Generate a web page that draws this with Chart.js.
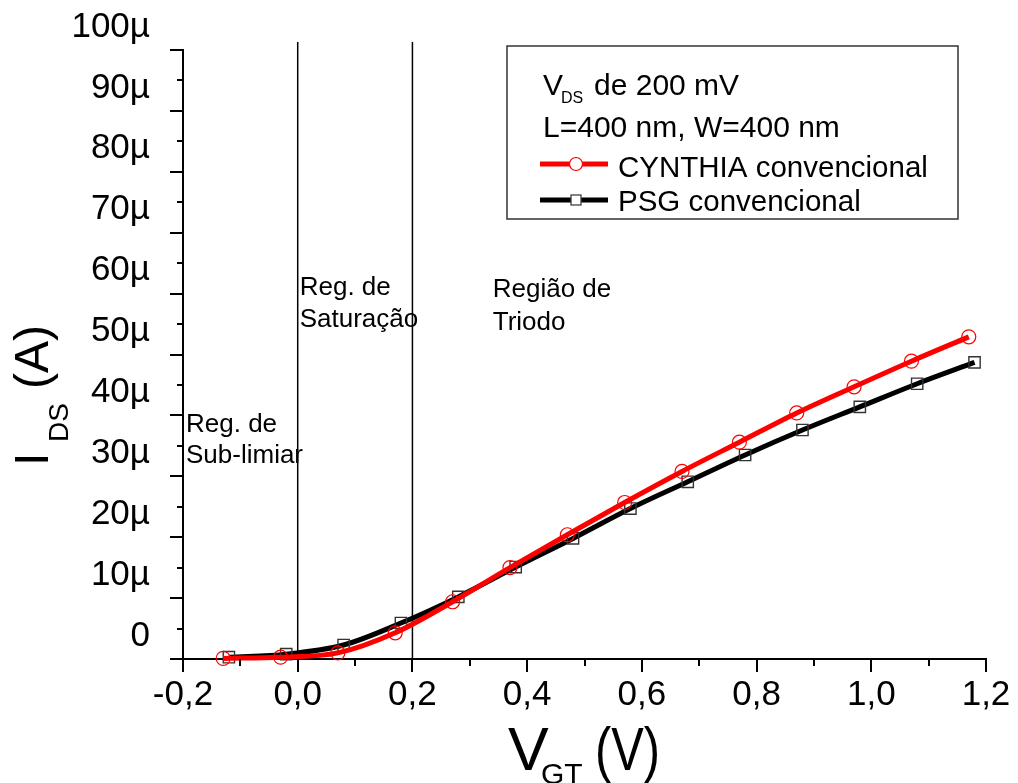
<!DOCTYPE html>
<html>
<head>
<meta charset="utf-8">
<script src="https://cdn.jsdelivr.net/npm/chart.js@4.4.0/dist/chart.umd.min.js"></script>
<style>
html,body{margin:0;padding:0;background:#fff;}
canvas{display:block;}
</style>
</head>
<body>
<canvas id="c" width="1018" height="783"></canvas>
<script>
// ---- data (I_DS in µA) ----
const vgtCynthia = [-0.13,-0.03,0.07,0.17,0.27,0.37,0.47,0.57,0.67,0.77,0.87,0.97,1.07,1.17];
const idsCynthia = [0.1,0.3,1.0,4.3,9.4,15.0,20.4,25.7,30.8,35.6,40.4,44.7,48.9,52.9];
const vgtPsg = [-0.12,-0.02,0.08,0.18,0.28,0.38,0.48,0.58,0.68,0.78,0.88,0.98,1.08,1.18];
const idsPsg = [0.3,0.8,2.3,5.9,10.2,15.1,19.8,24.7,29.1,33.5,37.6,41.4,45.2,48.7];
const regionBounds = [0.0, 0.2];
const xTickLabels = ['-0,2','0,0','0,2','0,4','0,6','0,8','1,0','1,2'];
const yTickLabels = ['0','10µ','20µ','30µ','40µ','50µ','60µ','70µ','80µ','90µ','100µ'];
const seriesNames = ['CYNTHIA convencional','PSG convencional'];

const FONT = '"Liberation Sans", Arial, Helvetica, sans-serif';

function pts(xs, ys){ return xs.map((v,i)=>({x:v, y:ys[i]})); }

const annot = {
  id:'annot',
  beforeDatasetsDraw(chart){
    const {ctx, scales:{x}, chartArea} = chart;
    ctx.save();
    ctx.strokeStyle = '#000'; ctx.lineWidth = 1.5;
    regionBounds.forEach(v=>{
      const px = x.getPixelForValue(v);
      ctx.beginPath(); ctx.moveTo(px, chartArea.top - 8); ctx.lineTo(px, chartArea.bottom); ctx.stroke();
    });
    ctx.restore();
  },
  afterDraw(chart){
    const {ctx, scales:{x,y}, chartArea} = chart;
    ctx.save();
    // tick marks
    ctx.strokeStyle = '#000'; ctx.lineWidth = 2;
    for (let i = 0; i <= 20; i++){
      const v = i*5, py = Math.round(y.getPixelForValue(v));
      const len = (i%2===0) ? 13 : 6;
      ctx.beginPath(); ctx.moveTo(chartArea.left, py); ctx.lineTo(chartArea.left - len, py); ctx.stroke();
    }
    for (let i = 0; i <= 14; i++){
      const v = -0.2 + i*0.1, px = Math.round(x.getPixelForValue(v));
      const len = (i%2===0) ? 13 : 7;
      ctx.beginPath(); ctx.moveTo(px, chartArea.bottom); ctx.lineTo(px, chartArea.bottom + len); ctx.stroke();
    }
    ctx.fillStyle = '#000';
    ctx.textBaseline = 'alphabetic';
    ctx.textAlign = 'left';
    // x title: V_GT (V)
    ctx.font = '61px ' + FONT;
    ctx.fillText('V', 508, 770);
    ctx.font = '30px ' + FONT;
    ctx.fillText('GT', 541, 784);
    ctx.save();
    ctx.translate(595, 770); ctx.scale(0.8, 1);
    ctx.font = '61px ' + FONT;
    ctx.fillText('(V)', 0, 0);
    ctx.restore();
    // y title: I_DS (A)
    ctx.save();
    ctx.translate(48, 0); ctx.rotate(-Math.PI/2);
    ctx.font = '48px ' + FONT;
    ctx.fillText('I', -466, 0);
    ctx.font = '28px ' + FONT;
    ctx.fillText('DS', -442, 20);
    ctx.font = '48px ' + FONT;
    ctx.fillText('(A)', -389, 0);
    ctx.restore();
    // region labels
    ctx.font = '26px ' + FONT;
    const l0 = chartArea.left + 3, l1 = x.getPixelForValue(0) + 2, l2 = x.getPixelForValue(0.34);
    ctx.fillText('Reg. de', l0, 432); ctx.fillText('Sub-limiar', l0, 463);
    ctx.fillText('Reg. de', l1, 295); ctx.fillText('Saturação', l1, 327);
    ctx.fillText('Região de', l2, 297); ctx.fillText('Triodo', l2, 330);
    // legend box
    ctx.strokeStyle = '#333'; ctx.lineWidth = 1.5;
    ctx.strokeRect(507, 46, 451, 173);
    ctx.font = '30px ' + FONT;
    ctx.fillText('V', 543, 95);
    ctx.font = '16px ' + FONT;
    ctx.fillText('DS', 561, 103);
    ctx.font = '30px ' + FONT;
    ctx.fillText('de 200 mV', 594, 95);
    ctx.fillText('L=400 nm, W=400 nm', 543, 137);
    ctx.font = '29.5px ' + FONT;
    ctx.fillText(seriesNames[0], 618, 177);
    ctx.fillText(seriesNames[1], 618, 211);
    // legend samples
    ctx.lineWidth = 5;
    ctx.strokeStyle = '#ff0000';
    ctx.beginPath(); ctx.moveTo(540, 164); ctx.lineTo(608, 164); ctx.stroke();
    ctx.lineWidth = 1.2;
    ctx.beginPath(); ctx.arc(576, 164, 6.5, 0, Math.PI*2); ctx.fillStyle='#fff'; ctx.fill(); ctx.stroke();
    ctx.strokeStyle = '#000'; ctx.lineWidth = 5;
    ctx.beginPath(); ctx.moveTo(540, 200); ctx.lineTo(608, 200); ctx.stroke();
    ctx.strokeStyle = '#333'; ctx.lineWidth = 1.2;
    ctx.fillStyle = '#fff';
    ctx.fillRect(571, 195, 10, 10); ctx.strokeRect(571, 195, 10, 10);
    ctx.restore();
  }
};

new Chart(document.getElementById('c'), {
  type: 'line',
  data: {
    datasets: [
      {
        label: seriesNames[0],
        data: pts(vgtCynthia, idsCynthia),
        borderColor: '#ff0000', borderWidth: 5,
        pointStyle: 'circle', pointRadius: 7, pointBorderWidth: 1.2,
        pointBorderColor: '#ff0000', pointBackgroundColor: 'rgba(0,0,0,0)',
        cubicInterpolationMode: 'monotone', clip: false
      },
      {
        label: seriesNames[1],
        data: pts(vgtPsg, idsPsg),
        borderColor: '#000000', borderWidth: 5,
        pointStyle: 'rect', pointRadius: 8, pointBorderWidth: 1.4,
        pointBorderColor: '#333333', pointBackgroundColor: 'rgba(0,0,0,0)',
        cubicInterpolationMode: 'monotone', clip: false
      }
    ]
  },
  options: {
    responsive: false,
    animation: false,
    layout: { padding: { top: 50, right: 32, left: 0, bottom: 0 } },
    plugins: { legend: { display: false }, tooltip: { enabled: false } },
    scales: {
      x: {
        type: 'linear', min: -0.2, max: 1.2,
        afterFit(s){ s.height = 124; },
        border: { display: true, color: '#000', width: 2 },
        grid: { drawOnChartArea: false, drawTicks: true, tickLength: 13, tickColor: 'rgba(0,0,0,0)' },
        ticks: {
          stepSize: 0.2, padding: 2, color: '#000', maxRotation: 0, autoSkip: false,
          font: { family: FONT, size: 35 },
          callback(v){ const i = Math.round((v + 0.2) / 0.2); return xTickLabels[i] ?? ''; }
        }
      },
      y: {
        type: 'linear', min: 0, max: 100,
        afterFit(s){ s.width = 183; },
        border: { display: true, color: '#000', width: 2 },
        grid: { drawOnChartArea: false, drawTicks: true, tickLength: 13, tickColor: 'rgba(0,0,0,0)' },
        ticks: {
          stepSize: 10, padding: 20, color: '#000', labelOffset: -23, autoSkip: false,
          font: { family: FONT, size: 35 },
          callback(v){ const i = Math.round(v / 10); return yTickLabels[i] ?? ''; }
        }
      }
    }
  },
  plugins: [annot]
});
</script>
</body>
</html>
